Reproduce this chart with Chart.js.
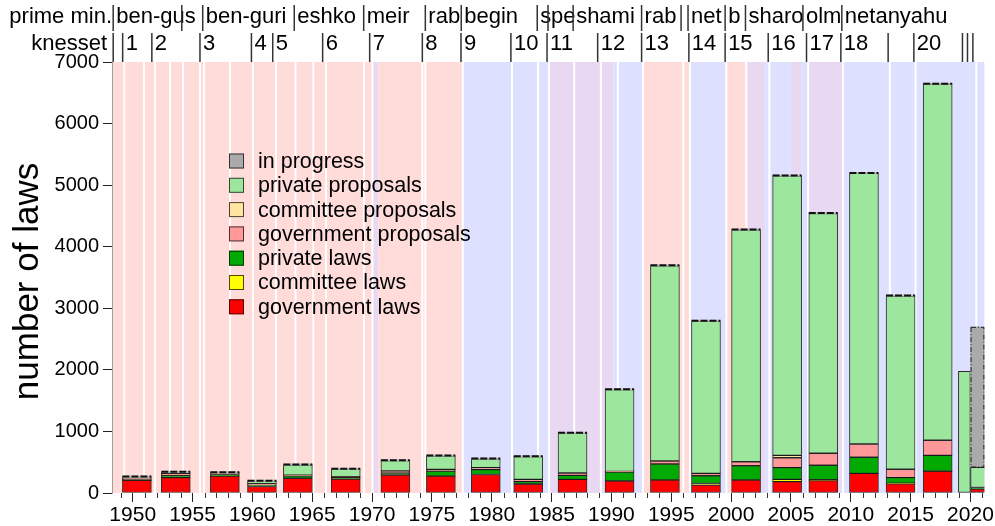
<!DOCTYPE html>
<html>
<head>
<meta charset="utf-8">
<script src="https://cdn.jsdelivr.net/npm/chart.js@4.4.1/dist/chart.umd.min.js"></script>
<style>
  html, body { margin: 0; padding: 0; background: #fff; }
</style>
</head>
<body>
<canvas id="lawsChart" width="995" height="526"></canvas>
<script>
(function() {
  "use strict";

  const FONT = '"Liberation Sans", Arial, sans-serif';

  // ── Data ──

  // bar centre (year) of each knesset bar: 1..20, then the running 23rd
  const barYears = [1950.35, 1953.6, 1957.7, 1960.8, 1963.8, 1967.8, 1971.95, 1975.75, 1979.5, 1983.05,
                    1986.75, 1990.68, 1994.47, 1997.9, 2001.25, 2004.68, 2007.7, 2011.1, 2014.16, 2017.26, 2021.22];

  const govLaws            = [205, 250, 275, 105, 240, 225, 292, 275, 300, 146, 222, 195, 211, 130, 211, 184, 200, 320, 150, 350, 65];
  const committeeLaws      = [0, 0, 0, 0, 0, 0, 0, 0, 0, 0, 0, 0, 0, 25, 0, 38, 15, 0, 10, 10, 0];
  const privateLaws        = [10, 30, 25, 25, 40, 30, 33, 80, 80, 38, 65, 146, 260, 125, 232, 189, 235, 260, 90, 252, 25];
  const govProposals       = [30, 40, 25, 20, 10, 10, 32, 28, 32, 38, 38, 10, 49, 39, 65, 162, 195, 216, 136, 244, 0];
  const committeeProposals = [0, 0, 0, 0, 0, 0, 0, 0, 0, 0, 0, 0, 0, 0, 0, 39, 0, 0, 0, 0, 0];
  const privateProposals   = [15, 15, 5, 40, 165, 120, 168, 217, 140, 368, 645, 1327, 3170, 2471, 3762, 4538, 3895, 4394, 2814, 5784, 325];
  const inProgress         = [0, 0, 0, 0, 0, 0, 0, 0, 0, 0, 0, 0, 0, 0, 0, 0, 0, 0, 0, 0, 2283];

  // knessets 21/22: narrow bar, private proposals only
  const shortBarYear = 2019.49;
  const shortBarProposals = 1976;

  const yTicks = [0, 1000, 2000, 3000, 4000, 5000, 6000, 7000];
  const xTickYears = [1950, 1955, 1960, 1965, 1970, 1975, 1980, 1985, 1990, 1995, 2000, 2005, 2010, 2015, 2020];
  const X_MIN = 1948.27;
  const X_MAX = 2021.16;

  // top rows
  const pmStarts = [1948.37, 1954.1, 1955.85, 1963.5, 1969.3, 1974.45, 1977.45, 1983.8, 1984.7, 1986.8,
                    1992.52, 1995.82, 1996.4, 1999.5, 2001.2, 2006.0, 2009.25];
  const pmLabels = ['ben-gu', 's', 'ben-guri', 'eshko', 'meir', 'rab', 'begin', 's', 'pe', 'shami',
                    'rab', '', 'net', 'b', 'sharo', 'olm', 'netanyahu'];
  const knessetStarts = [1948.37, 1949.16, 1951.6, 1955.62, 1959.92, 1961.7, 1965.87, 1969.8, 1974.2, 1977.43,
                         1981.6, 1984.62, 1988.85, 1992.52, 1996.47, 1999.5, 2003.1, 2006.3, 2009.17, 2013.12,
                         2015.27, 2019.33, 2019.75, 2020.2];
  const knessetLabels = ['', '1', '2', '3', '4', '5', '6', '7', '8', '9',
                         '10', '11', '12', '13', '14', '15', '16', '17', '18', '',
                         '20', '', '', ''];

  // background: ruling camp per period, white line at each new government
  const campSpans = [
    [1948.0, 1970.0, 'left'], [1970.0, 1970.52, 'unity'], [1970.52, 1977.55, 'left'],
    [1977.55, 1984.76, 'right'], [1984.76, 1990.17, 'unity'], [1990.17, 1992.6, 'right'],
    [1992.6, 1996.5, 'left'], [1996.5, 1999.58, 'right'], [1999.58, 2001.27, 'left'],
    [2001.27, 2002.85, 'unity'], [2002.85, 2005.0, 'right'], [2005.0, 2005.85, 'unity'],
    [2005.85, 2006.44, 'right'], [2006.44, 2009.32, 'unity'], [2009.32, 2022.0, 'right'],
  ];
  const govStarts = [1949.3, 1950.94, 1951.86, 1953.12, 1954.2, 1955.62, 1955.96, 1958.13, 1960.05, 1961.97,
                     1963.6, 1965.09, 1966.15, 1969.32, 1970.03, 1974.2, 1974.45, 1977.58, 1981.69, 1983.86,
                     1984.78, 1986.89, 1989.12, 1990.54, 1992.63, 1996.0, 1996.56, 1999.6, 2001.27, 2003.2,
                     2006.44, 2009.34, 2013.27, 2015.41, 2020.49];

  const campColors = { left: '#ffdcd9', right: '#dde1ff', unity: '#e8d8f2' };

  const series = [
    { label: 'government laws',      data: govLaws,            color: '#ff0000' },
    { label: 'committee laws',       data: committeeLaws,      color: '#ffff00' },
    { label: 'private laws',         data: privateLaws,        color: '#00aa00' },
    { label: 'government proposals', data: govProposals,       color: '#ff9999' },
    { label: 'committee proposals',  data: committeeProposals, color: '#ffe4a1' },
    { label: 'private proposals',    data: privateProposals,   color: '#9de69d' },
    { label: 'in progress',          data: inProgress,         color: '#aaaaaa' },
  ];
  const IN_PROGRESS = 6;

  // ── Datasets ──

  const datasets = series.map((s, k) => ({
    label: s.label,
    data: barYears.map((x, i) => ({ x: x, y: s.data[i] })),
    backgroundColor: s.color,
    borderColor: 'rgba(0,0,0,0.8)',
    borderWidth: k === IN_PROGRESS ? 0 : 1,
    borderSkipped: false,
    barThickness: 29,
    stack: 'laws',
    clip: 0,
  }));
  datasets.push({
    label: 'private proposals (21-22)',
    data: [{ x: shortBarYear, y: shortBarProposals }],
    backgroundColor: series[5].color,
    borderColor: 'rgba(0,0,0,0.8)',
    borderWidth: 1,
    borderSkipped: false,
    barThickness: 12,
    stack: 'laws',
    clip: 0,
  });

  // ── Plugins ──

  const campBands = {
    id: 'campBands',
    beforeDraw(chart) {
      const { ctx, chartArea: a, scales: { x } } = chart;
      ctx.save();
      campSpans.forEach(([s, e, camp]) => {
        const l = Math.max(a.left, x.getPixelForValue(s));
        const r = Math.min(a.right, x.getPixelForValue(e));
        if (r <= l) return;
        ctx.fillStyle = campColors[camp];
        ctx.fillRect(l, a.top, r - l, a.bottom - a.top);
      });
      ctx.fillStyle = '#ffffff';
      govStarts.forEach(g => {
        const px = x.getPixelForValue(g);
        ctx.fillRect(px - 1, a.top, 2, a.bottom - a.top);
      });
      ctx.restore();
    }
  };

  const barOutlines = {
    id: 'barOutlines',
    afterDatasetsDraw(chart) {
      const { ctx, chartArea: a } = chart;
      const meta = chart.getDatasetMeta(IN_PROGRESS);
      ctx.save();
      meta.data.forEach(el => {
        const p = el.getProps(['x', 'y', 'base', 'width'], true);
        const l = Math.max(a.left, p.x - p.width / 2);
        const r = Math.min(a.right, p.x + p.width / 2);
        if (p.base - p.y < 1) {
          // empty: dashed cap on top of the bar
          ctx.setLineDash([]);
          ctx.strokeStyle = '#c8c8c8';
          ctx.lineWidth = 2;
          ctx.beginPath(); ctx.moveTo(l, p.y - 0.5); ctx.lineTo(r, p.y - 0.5); ctx.stroke();
          ctx.setLineDash([7, 2]);
          ctx.strokeStyle = '#111';
          ctx.beginPath(); ctx.moveTo(l, p.y - 0.5); ctx.lineTo(r, p.y - 0.5); ctx.stroke();
        } else {
          ctx.setLineDash([5, 2, 1, 2]);
          ctx.strokeStyle = '#222';
          ctx.lineWidth = 1;
          ctx.strokeRect(l + 0.5, p.y + 0.5, r - l - 1, p.base - p.y - 1);
        }
      });
      ctx.restore();
    }
  };

  const minorTicks = {
    id: 'minorTicks',
    afterDraw(chart) {
      const { ctx, chartArea: a, scales: { x } } = chart;
      ctx.save();
      ctx.strokeStyle = '#333';
      ctx.lineWidth = 1;
      for (let yr = Math.ceil(X_MIN); yr <= Math.floor(X_MAX); yr++) {
        if (yr % 5 === 0) continue;
        const px = Math.round(x.getPixelForValue(yr)) + 0.5;
        ctx.beginPath(); ctx.moveTo(px, a.bottom); ctx.lineTo(px, a.bottom + 5); ctx.stroke();
      }
      ctx.restore();
    }
  };

  function drawRow(ctx, x, starts, labels, top, bottom, textY) {
    starts.forEach((s, i) => {
      const px = x.getPixelForValue(s);
      ctx.beginPath(); ctx.moveTo(px, top); ctx.lineTo(px, bottom); ctx.stroke();
      if (labels[i]) ctx.fillText(labels[i], px + 3, textY);
    });
  }

  const topRows = {
    id: 'topRows',
    afterDraw(chart) {
      const { ctx, chartArea: a, scales: { x } } = chart;
      ctx.save();
      ctx.font = '22px ' + FONT;
      ctx.fillStyle = '#000';
      ctx.textBaseline = 'middle';
      ctx.textAlign = 'right';
      ctx.fillText('prime min.', 112, 17);
      ctx.fillText('knesset', 107, 44);
      ctx.textAlign = 'left';
      ctx.strokeStyle = '#333';
      ctx.lineWidth = 1.5;
      drawRow(ctx, x, pmStarts, pmLabels, 5, 31, 17);
      drawRow(ctx, x, knessetStarts, knessetLabels, 33, a.top, 44);
      ctx.restore();
    }
  };

  const legendBox = {
    id: 'legendBox',
    afterDraw(chart) {
      const { ctx } = chart;
      ctx.save();
      ctx.font = '21.5px ' + FONT;
      ctx.textBaseline = 'middle';
      ctx.textAlign = 'left';
      series.slice().reverse().forEach((s, i) => {
        const cy = 161 + i * 24.3;
        ctx.fillStyle = s.color;
        ctx.fillRect(229, cy - 7.5, 15, 15);
        ctx.strokeStyle = 'rgba(0,0,0,0.7)';
        ctx.lineWidth = 1;
        ctx.strokeRect(229.5, cy - 7, 14, 14);
        ctx.fillStyle = '#000';
        ctx.fillText(s.label, 258, cy + 1);
      });
      ctx.restore();
    }
  };

  const yTitle = {
    id: 'yTitle',
    afterDraw(chart) {
      const { ctx, chartArea: a } = chart;
      ctx.save();
      ctx.translate(28, (a.top + a.bottom) / 2 + 4);
      ctx.rotate(-Math.PI / 2);
      ctx.font = '35px ' + FONT;
      ctx.fillStyle = '#000';
      ctx.textAlign = 'center';
      ctx.textBaseline = 'middle';
      ctx.fillText('number of laws', 0, 0);
      ctx.restore();
    }
  };

  // ── Chart ──

  new Chart(document.getElementById('lawsChart'), {
    type: 'bar',
    data: { datasets },
    options: {
      responsive: false,
      devicePixelRatio: 1,
      animation: false,
      events: [],
      layout: { padding: { top: 62, right: 10.5, bottom: 0, left: 0 } },
      plugins: { legend: { display: false }, tooltip: { enabled: false } },
      scales: {
        x: {
          type: 'linear',
          min: X_MIN,
          max: X_MAX,
          offset: false,
          stacked: true,
          afterBuildTicks: s => { s.ticks = xTickYears.map(v => ({ value: v })); },
          afterFit: s => { s.height = 33; },
          grid: { drawOnChartArea: false, offset: false, tickLength: 9, tickColor: '#222' },
          border: { display: false },
          ticks: { color: '#000', font: { size: 21, family: FONT }, padding: 1, maxRotation: 0, autoSkip: false,
                   callback: v => String(v) },
        },
        y: {
          stacked: true,
          min: 0,
          max: 7000,
          afterBuildTicks: s => { s.ticks = yTicks.map(v => ({ value: v })); },
          afterFit: s => { s.width = 112; },
          grid: { drawOnChartArea: false, tickLength: 9, tickColor: '#222' },
          border: { display: true, color: '#a0a0a0' },
          ticks: { color: '#000', font: { size: 20, family: FONT }, padding: 4, callback: v => String(v) },
        },
      },
    },
    plugins: [campBands, barOutlines, minorTicks, topRows, legendBox, yTitle],
  });

})();
</script>
</body>
</html>
